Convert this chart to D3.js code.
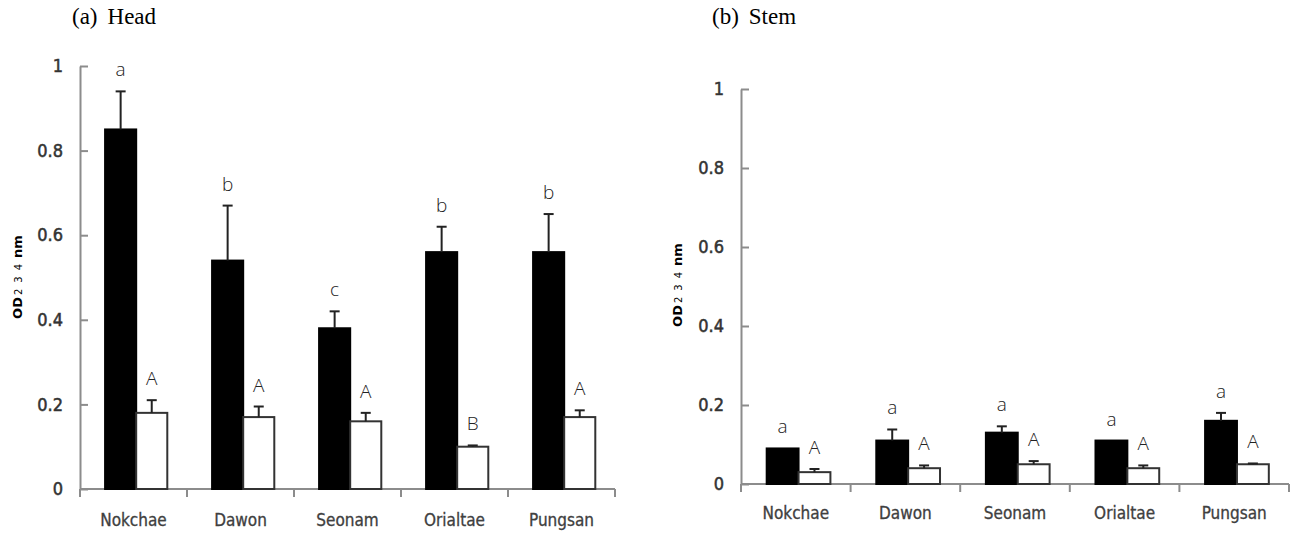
<!DOCTYPE html>
<html>
<head>
<meta charset="utf-8">
<script src="https://cdn.jsdelivr.net/npm/d3@7"></script>
<style>
  body { margin: 0; background: #fff; }
  svg { display: block; }
</style>
</head>
<body>
<svg id="chart"></svg>
<script>
var width = 1294;
var height = 534;

// data
var cultivars = ["Nokchae", "Dawon", "Seonam", "Orialtae", "Pungsan"];
var yTicks = [0, 0.2, 0.4, 0.6, 0.8, 1];

var headDark = [0.85, 0.54, 0.38, 0.56, 0.56];
var headDarkErr = [0.09, 0.13, 0.04, 0.06, 0.09];
var headLight = [0.18, 0.17, 0.16, 0.10, 0.17];
var headLightErr = [0.03, 0.025, 0.02, 0.003, 0.016];
var headDarkLetters = ["a", "b", "c", "b", "b"];
var headLightLetters = ["A", "A", "A", "B", "A"];

var stemDark = [0.09, 0.11, 0.13, 0.11, 0.16];
var stemDarkErr = [0, 0.028, 0.016, 0, 0.02];
var stemLight = [0.03, 0.04, 0.05, 0.04, 0.05];
var stemLightErr = [0.008, 0.007, 0.008, 0.007, 0.002];
var stemDarkLetters = ["a", "a", "a", "a", "a"];
var stemLightLetters = ["A", "A", "A", "A", "A"];

var svg = d3.select("#chart").attr("width", width).attr("height", height);

var tickFont = "'DejaVu Sans Condensed', 'DejaVu Sans', sans-serif";

function drawPanel(opt) {
    var g = svg.append("g");

    var x0 = d3.scaleBand().domain(cultivars).range([opt.left, opt.right]);
    var x1 = d3.scaleBand().domain(["dark", "light"])
        .range([0, x0.bandwidth()]).paddingOuter(0.72).align(0.56);
    var y = d3.scaleLinear().domain([0, 1]).range([opt.bottom, opt.top]);

    // title
    var t = g.append("text")
        .attr("x", opt.titleX).attr("y", 24)
        .style("font-family", "'Liberation Serif', 'Times New Roman', serif")
        .style("font-size", "23px")
        .style("fill", "#000");
    t.append("tspan").text(opt.tag);
    t.append("tspan").attr("dx", 10).text(opt.title);

    // y axis
    var yAxis = d3.axisLeft(y).tickValues(yTicks)
        .tickFormat(d3.format("~g"))
        .tickSizeInner(-8).tickSizeOuter(0).tickPadding(17);
    var ya = g.append("g").attr("transform", "translate(" + opt.left + ",0)").call(yAxis);
    ya.select(".domain").attr("stroke", "#8c8c8c").attr("stroke-width", 2);
    ya.selectAll(".tick line").attr("stroke", "#8c8c8c").attr("stroke-width", 2);
    ya.selectAll(".tick text")
        .style("font-family", tickFont)
        .style("font-size", "18px")
        .style("fill", "#333")
        .style("stroke", "#333")
        .style("stroke-width", 0.5);

    // x axis: baseline + ticks at category boundaries
    g.append("line")
        .attr("x1", opt.left).attr("x2", opt.right)
        .attr("y1", y(0)).attr("y2", y(0))
        .attr("stroke", "#8c8c8c").attr("stroke-width", 2);
    var bounds = cultivars.map(function (c) { return x0(c); }).concat([opt.right]);
    g.selectAll(".xtick").data(bounds).enter().append("line")
        .attr("x1", function (d) { return d; })
        .attr("x2", function (d) { return d; })
        .attr("y1", y(0)).attr("y2", y(0) + 8)
        .attr("stroke", "#8c8c8c").attr("stroke-width", 2);
    g.selectAll(".xlab").data(cultivars).enter().append("text")
        .attr("x", function (d) { return x0(d) + x0.bandwidth() / 2; })
        .attr("y", y(0) + opt.labelGap)
        .attr("text-anchor", "middle")
        .style("font-family", tickFont)
        .style("font-size", "17px")
        .style("fill", "#404040")
        .style("stroke", "#404040")
        .style("stroke-width", 0.3)
        .text(function (d) { return d; });

    // y axis title OD234nm
    var yl = g.append("text")
        .attr("transform", "translate(" + opt.ylabX + "," + opt.ylabY + ") rotate(-90)")
        .attr("text-anchor", "middle")
        .style("font-family", "'DejaVu Sans', sans-serif")
        .style("fill", "#000");
    yl.append("tspan").style("font-size", "13px").style("font-weight", "bold").text("OD");
    yl.append("tspan").style("font-size", "10px").style("letter-spacing", "6px").attr("dx", 2).text("234");
    yl.append("tspan").style("font-size", "13px").style("font-weight", "bold").text("nm");

    var rows = cultivars.map(function (c, i) {
        return [
            { c: c, key: "dark", v: opt.dark[i], e: opt.darkErr[i], lab: opt.darkLetters[i] },
            { c: c, key: "light", v: opt.light[i], e: opt.lightErr[i], lab: opt.lightLetters[i] }
        ];
    });
    var items = [].concat.apply([], rows);

    function cx(d) { return x0(d.c) + x1(d.key) + x1.bandwidth() / 2; }

    // bars
    g.selectAll(".bar").data(items).enter().append("rect")
        .attr("x", function (d) { return x0(d.c) + x1(d.key); })
        .attr("y", function (d) { return y(d.v); })
        .attr("width", x1.bandwidth())
        .attr("height", function (d) { return y(0) - y(d.v); })
        .attr("fill", function (d) { return d.key == "dark" ? "#000" : "#fff"; })
        .attr("stroke", function (d) { return d.key == "dark" ? "#000" : "#333"; })
        .attr("stroke-width", 2);

    // error bars (upper only)
    var eb = items.filter(function (d) { return d.e > 0; });
    g.selectAll(".err").data(eb).enter().append("line")
        .attr("x1", cx).attr("x2", cx)
        .attr("y1", function (d) { return y(d.v); })
        .attr("y2", function (d) { return y(d.v + d.e); })
        .attr("stroke", "#222").attr("stroke-width", 2);
    g.selectAll(".cap").data(eb).enter().append("line")
        .attr("x1", function (d) { return cx(d) - 5; })
        .attr("x2", function (d) { return cx(d) + 5; })
        .attr("y1", function (d) { return y(d.v + d.e); })
        .attr("y2", function (d) { return y(d.v + d.e); })
        .attr("stroke", "#222").attr("stroke-width", 2);

    // significance letters
    g.selectAll(".sig").data(items).enter().append("text")
        .attr("x", cx)
        .attr("y", function (d) { return y(d.v + d.e) - 15; })
        .attr("text-anchor", "middle")
        .style("font-family", "'Open Sans', 'DejaVu Sans', sans-serif")
        .style("font-weight", 300)
        .style("font-size", "19px")
        .style("fill", "#222")
        .text(function (d) { return d.lab; });
}

drawPanel({
    left: 80, right: 615, top: 66, bottom: 489,
    titleX: 72, tag: "(a)", title: "Head",
    ylabX: 22, ylabY: 277, labelGap: 37,
    dark: headDark, darkErr: headDarkErr, light: headLight, lightErr: headLightErr,
    darkLetters: headDarkLetters, lightLetters: headLightLetters
});

drawPanel({
    left: 741, right: 1289, top: 89, bottom: 484,
    titleX: 712, tag: "(b)", title: "Stem",
    ylabX: 682, ylabY: 285, labelGap: 35,
    dark: stemDark, darkErr: stemDarkErr, light: stemLight, lightErr: stemLightErr,
    darkLetters: stemDarkLetters, lightLetters: stemLightLetters
});
</script>
</body>
</html>
